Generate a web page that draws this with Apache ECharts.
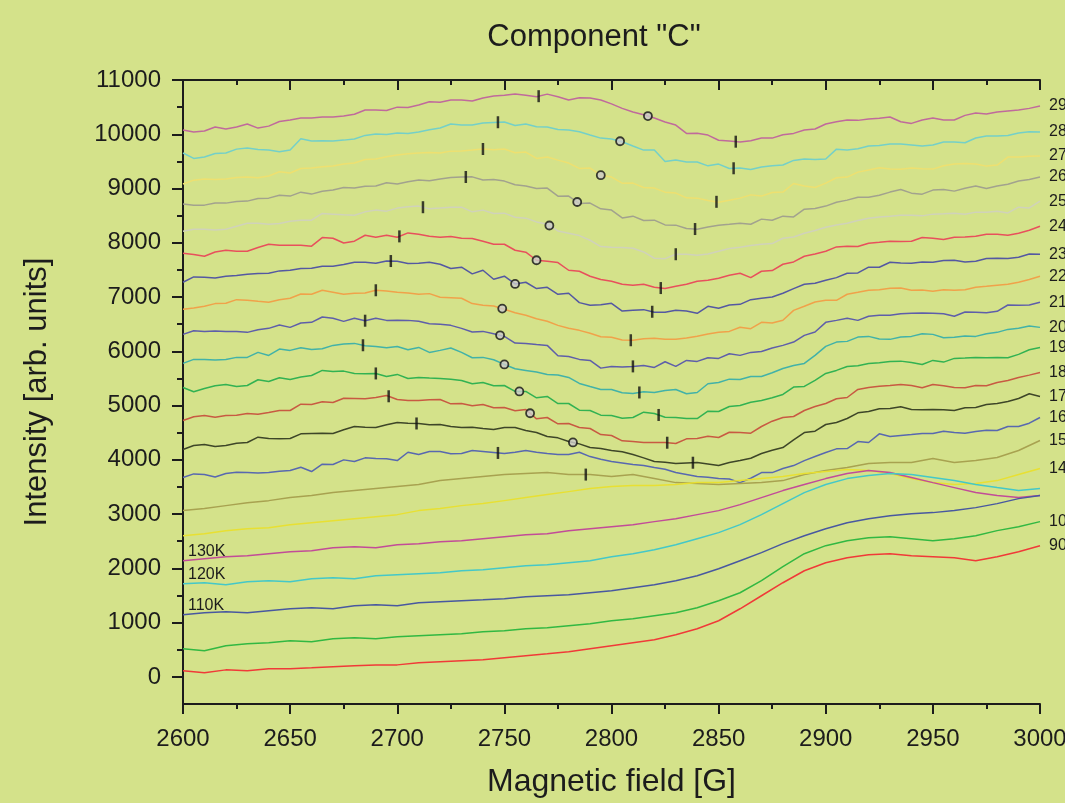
<!DOCTYPE html>
<html>
<head>
<meta charset="utf-8">
<script src="https://cdn.jsdelivr.net/npm/echarts@6/dist/echarts.min.js"></script>
<style>
  html, body { margin: 0; padding: 0; background: #d4e28a; }
  #chart { width: 1065px; height: 803px; }
</style>
</head>
<body>
<div id="chart"></div>
<script>
// Magnetic field sampling points [G]: main grid and the in-between points
const fieldsEven = [2600, 2610, 2620, 2630, 2640, 2650, 2660, 2670, 2680, 2690,
                    2700, 2710, 2720, 2730, 2740, 2750, 2760, 2770, 2780, 2790,
                    2800, 2810, 2820, 2830, 2840, 2850, 2860, 2870, 2880, 2890,
                    2900, 2910, 2920, 2930, 2940, 2950, 2960, 2970, 2980, 2990, 3000];
const fieldsOdd  = [2605, 2615, 2625, 2635, 2645, 2655, 2665, 2675, 2685, 2695,
                    2705, 2715, 2725, 2735, 2745, 2755, 2765, 2775, 2785, 2795,
                    2805, 2815, 2825, 2835, 2845, 2855, 2865, 2875, 2885, 2895,
                    2905, 2915, 2925, 2935, 2945, 2955, 2965, 2975, 2985, 2995];

// Spectra, offset per temperature [arb. units]; iNNN on fieldsEven, mNNN on fieldsOdd
const i290 = [10077,10060,10095,10190,10150,10262,10300,10317,10370,10445,10500,10540,10590,10630,10670,10720,10720,10740,10630,10670,10560,10410,10300,10170,10020,9890,9856,9930,9990,10077,10190,10262,10280,10317,10200,10300,10262,10390,10410,10445,10520];
const m290 = [10040,10133,10133,10114,10234,10298,10317,10335,10446,10437,10492,10600,10631,10612,10704,10741,10692,10692,10673,10631,10477,10359,10225,10016,9985,9874,9880,9929,10016,10096,10231,10256,10293,10231,10262,10262,10348,10372,10428,10477];
const i280 = [9655,9580,9655,9747,9710,9710,9877,9877,9913,10005,10023,10042,10116,10171,10208,10227,10190,10134,10079,9987,9913,9784,9710,9526,9488,9450,9378,9396,9433,9544,9544,9710,9784,9821,9803,9803,9858,9932,9968,10023,10042];
const m280 = [9555,9647,9726,9721,9677,9916,9880,9892,9979,9997,10016,10083,10188,10169,10218,10163,10138,10089,10046,9929,9861,9708,9499,9487,9418,9370,9351,9418,9518,9536,9726,9732,9794,9819,9782,9856,9843,9966,9979,10046];
const i270 = [9082,9174,9174,9211,9230,9285,9377,9414,9469,9543,9617,9654,9654,9691,9728,9728,9672,9580,9469,9377,9211,9100,9008,8916,8823,8749,8823,8860,8934,9045,9100,9211,9340,9358,9377,9358,9451,9451,9433,9580,9598];
const m270 = [9154,9167,9204,9198,9308,9370,9400,9450,9536,9585,9640,9665,9689,9708,9714,9659,9555,9523,9370,9246,9099,9020,8933,8828,8779,8785,8883,8927,9093,9020,9198,9302,9382,9357,9363,9418,9462,9413,9579,9597];
const i260 = [8713,8694,8731,8768,8823,8860,8897,8971,9008,9045,9082,9156,9174,9211,9156,9137,9045,9008,8860,8731,8602,8491,8417,8325,8251,8325,8362,8436,8491,8620,8676,8786,8841,8934,8915,8971,8952,9045,9045,9137,9211];
const m260 = [8693,8735,8760,8816,8877,8933,8951,9020,9043,9105,9123,9142,9204,9215,9167,9068,9001,8859,8724,8625,8458,8410,8329,8263,8292,8342,8342,8415,8477,8632,8748,8840,8877,8982,8896,8982,9006,9001,9080,9167];
const i250 = [8213,8250,8250,8361,8343,8398,8417,8528,8509,8602,8639,8676,8639,8657,8602,8546,8454,8343,8176,8047,7918,7900,7715,7789,7770,7844,7918,7973,8084,8176,8287,8361,8454,8491,8509,8528,8546,8565,8583,8657,8768];
const m250 = [8250,8237,8305,8361,8355,8415,8540,8515,8570,8583,8662,8625,8656,8570,8540,8471,8385,8219,8133,7930,7912,7831,7708,7788,7794,7893,7949,7985,8108,8226,8329,8410,8477,8508,8496,8533,8527,8564,8551,8643];
const i240 = [7807,7752,7863,7844,7973,7955,7937,8084,8029,8102,8102,8158,8102,8084,8029,7973,7826,7660,7494,7383,7291,7217,7180,7199,7291,7346,7438,7475,7604,7752,7844,7937,7992,8029,8029,8084,8102,8121,8158,8176,8306];
const m240 = [7783,7831,7844,7912,7955,7955,8096,7997,8139,8139,8182,8121,8115,8078,7973,7862,7678,7635,7475,7322,7235,7235,7156,7235,7309,7401,7358,7488,7647,7794,7924,7930,8010,8022,8096,8059,8108,8158,8139,8231];
const i230 = [7273,7365,7384,7421,7439,7494,7531,7568,7642,7623,7660,7623,7605,7550,7494,7384,7273,7180,7070,6848,6885,6756,6719,6756,6700,6792,6866,6977,7070,7235,7310,7439,7550,7642,7623,7642,7678,7660,7715,7734,7789];
const m230 = [7371,7352,7395,7433,7482,7525,7568,7599,7642,7666,7617,7642,7525,7427,7327,7241,7156,7050,6897,6860,6742,6768,6718,6742,6829,6853,6952,7001,7156,7253,7358,7444,7549,7628,7647,7672,7647,7709,7709,7794];
const i220 = [6775,6830,6886,6941,6904,6978,7051,7088,7070,7125,7088,7051,6996,6978,6849,6775,6664,6553,6424,6332,6258,6203,6240,6221,6277,6350,6443,6535,6572,6830,6941,7051,7125,7162,7125,7107,7125,7180,7217,7273,7384];
const m220 = [6798,6879,6952,6921,6952,7056,7124,7050,7075,7112,7075,7063,6989,6879,6835,6712,6601,6478,6386,6269,6207,6232,6220,6244,6318,6367,6417,6521,6755,6908,6940,7087,7136,7167,7130,7136,7136,7198,7235,7322];
const i210 = [6312,6367,6367,6349,6423,6441,6534,6608,6608,6608,6571,6552,6497,6423,6367,6275,6146,6109,5906,5832,5722,5722,5703,5722,5814,5869,5925,5998,6109,6293,6534,6608,6645,6663,6700,6700,6645,6719,6737,6848,6903];
const m210 = [6380,6373,6367,6398,6484,6521,6632,6552,6564,6570,6570,6509,6478,6355,6325,6152,6127,5919,5851,5690,5709,5740,5808,5832,5882,5955,5980,6060,6170,6355,6570,6570,6663,6694,6705,6694,6724,6712,6853,6853];
const i200 = [5777,5851,5851,5888,5924,6017,6035,6109,6146,6090,6090,6072,6017,5980,5888,5758,5648,5574,5518,5352,5297,5223,5241,5297,5241,5426,5481,5537,5684,5777,6090,6183,6275,6220,6275,6312,6257,6275,6349,6423,6441];
const m200 = [5851,5839,5888,5980,6041,6066,6048,6133,6103,6066,6029,5980,6060,5882,5845,5679,5617,5562,5408,5297,5236,5254,5278,5217,5402,5487,5537,5605,5740,5924,6170,6262,6225,6262,6325,6251,6281,6325,6404,6465];
const i190 = [5334,5315,5389,5370,5444,5481,5555,5629,5592,5592,5574,5518,5500,5463,5426,5370,5260,5168,5038,4909,4817,4780,4854,4780,4761,4891,5002,5094,5205,5352,5592,5721,5777,5814,5795,5832,5869,5888,5888,5943,6072];
const m190 = [5254,5365,5352,5476,5513,5525,5648,5635,5586,5537,5500,5506,5487,5402,5365,5260,5143,5038,4915,4823,4768,4878,4786,4762,4896,4983,5062,5143,5340,5463,5648,5734,5789,5819,5758,5801,5875,5882,5882,6029];
const i180 = [4725,4817,4817,4854,4872,4909,5020,5057,5131,5149,5112,5094,5112,5038,5020,4965,4928,4780,4669,4577,4448,4337,4319,4300,4392,4411,4503,4614,4780,4909,5038,5149,5334,5370,5370,5389,5334,5370,5426,5518,5610];
const m180 = [4793,4786,4823,4841,4909,5025,5069,5136,5125,5186,5094,5106,5032,4996,4959,4903,4755,4663,4595,4466,4350,4319,4319,4387,4435,4509,4491,4712,4799,4983,5125,5297,5358,5389,5328,5365,5328,5365,5463,5561];
const i170 = [4190,4282,4264,4319,4392,4392,4485,4485,4614,4596,4688,4669,4651,4596,4577,4596,4540,4429,4337,4226,4171,4097,3968,3931,3949,3894,3986,4116,4226,4503,4651,4762,4891,4946,4928,4928,4909,4965,5038,5131,5168];
const m170 = [4263,4245,4306,4417,4387,4479,4491,4553,4601,4645,4675,4645,4614,4601,4559,4595,4503,4405,4294,4208,4147,4036,3955,3943,3925,3950,4029,4177,4368,4528,4688,4866,4940,4977,4922,4922,4959,5020,5075,5217];
const i160 = [3673,3728,3747,3765,3765,3802,3784,3913,3968,4023,3986,4097,4153,4116,4153,4116,4171,4116,4097,4060,3968,3913,3857,3765,3691,3654,3580,3765,3839,3986,4134,4208,4319,4430,4466,4485,4503,4522,4540,4614,4780];
const m160 = [3741,3685,3771,3759,3789,3863,3919,3999,4036,4018,4140,4153,4110,4171,4134,4140,4140,4097,4140,4011,3943,3894,3826,3728,3679,3648,3660,3765,3894,4060,4202,4337,4479,4448,4485,4528,4491,4546,4614,4675];
const i150 = [3064,3101,3156,3211,3248,3304,3341,3396,3433,3470,3507,3544,3617,3654,3691,3728,3747,3765,3728,3728,3691,3728,3654,3580,3562,3544,3562,3580,3617,3728,3802,3857,3931,3950,3950,4023,3950,3986,4042,4171,4356];
const m150 = [];
const i140 = [2602,2639,2695,2731,2750,2805,2842,2879,2916,2953,2990,3064,3101,3156,3193,3248,3304,3359,3414,3470,3507,3525,3525,3544,3580,3580,3617,3654,3691,3747,3783,3820,3802,3747,3654,3580,3544,3562,3617,3728,3839];
const m140 = [];
const i130 = [2141,2178,2215,2233,2270,2307,2325,2381,2399,2381,2436,2455,2492,2510,2547,2584,2621,2639,2695,2731,2768,2805,2861,2916,2990,3064,3174,3304,3433,3544,3654,3747,3802,3765,3673,3580,3488,3396,3341,3304,3341];
const m130 = [];
const i120 = [1716,1735,1698,1753,1772,1753,1809,1827,1809,1864,1883,1901,1919,1956,1975,2012,2049,2067,2104,2141,2215,2270,2344,2436,2547,2658,2805,2990,3193,3396,3544,3654,3710,3747,3728,3673,3617,3544,3488,3433,3470];
const m120 = [];
const i110 = [1144,1181,1200,1181,1218,1255,1273,1255,1310,1329,1310,1366,1384,1403,1421,1440,1476,1495,1513,1550,1587,1643,1698,1772,1864,1993,2141,2289,2455,2602,2731,2842,2916,2971,3008,3027,3064,3119,3193,3285,3341];
const m110 = [];
const i100 = [517,480,572,609,628,664,646,701,720,701,738,757,775,794,831,849,886,904,941,978,1034,1070,1126,1181,1273,1403,1550,1772,2030,2270,2418,2510,2565,2584,2547,2510,2547,2602,2695,2768,2861];
const m100 = [];
const i90  = [111,74,129,111,148,148,166,185,203,221,221,258,277,295,314,351,388,424,461,517,572,628,683,775,886,1034,1255,1495,1735,1956,2104,2196,2252,2270,2233,2215,2196,2141,2215,2307,2418];
const m90  = [];

const temps  = ['290K','280K','270K','260K','250K','240K','230K','220K','210K','200K',
                '190K','180K','170K','160K','150K','140K','130K','120K','110K','100K','90K'];
const evenVals = [i290,i280,i270,i260,i250,i240,i230,i220,i210,i200,
                  i190,i180,i170,i160,i150,i140,i130,i120,i110,i100,i90];
const oddVals  = [m290,m280,m270,m260,m250,m240,m230,m220,m210,m200,
                  m190,m180,m170,m160,m150,m140,m130,m120,m110,m100,m90];
const colors = ['#c06a9c','#74d0c8','#eee070','#a2a28e','#d0d2ba','#e8505c','#5458a2','#f0a24a','#5e5eaa','#42b2a8',
                '#32b252','#c85a42','#3e4628','#5868b0','#a8a250','#e8e032','#c24c98','#44c8c8','#4858a0','#32b842','#f03a38'];
// Curves labelled at the start of the field sweep instead of the end
const leftLabelled = ['130K','120K','110K'];

// Resonance position markers: short bars and open rings
const tickLabels = ['290K','290K','280K','280K','270K','270K','260K','260K','250K','250K','240K','240K','230K','230K',
                    '220K','220K','210K','210K','200K','200K','190K','190K','180K','180K','170K','170K','160K','150K'];
const tickFields = [2766,2858,2747,2857,2740,2849,2732,2839,2712,2830,2701,2823,2697,2819,
                    2690,2809,2685,2810,2684,2813,2690,2822,2696,2826,2709,2838,2747,2788];
const ringLabels = ['290K','280K','270K','260K','250K','240K','230K','220K','210K','200K','190K','180K','170K'];
const ringFields = [2817,2804,2795,2784,2771,2765,2755,2749,2748,2750,2757,2762,2782];

const FONT = '"Liberation Sans", Arial, Helvetica, sans-serif';
const INK = '#1c1c1c';

// Join the main-grid and in-between samples of one spectrum into field order
function mergeSamples(even, odd) {
  const pts = even.map((v, j) => [fieldsEven[j], v]);
  odd.forEach((v, j) => pts.push([fieldsOdd[j], v]));
  return pts.sort((a, b) => a[0] - b[0]);
}
const spectra = temps.map((_, k) => mergeSamples(evenVals[k], oddVals[k]));

function valueAt(pts, f) {
  for (let j = 0; j < pts.length - 1; j++) {
    if (f >= pts[j][0] && f <= pts[j + 1][0]) {
      const t = (f - pts[j][0]) / (pts[j + 1][0] - pts[j][0]);
      return pts[j][1] + t * (pts[j + 1][1] - pts[j][1]);
    }
  }
  return pts[pts.length - 1][1];
}

const lineSeries = temps.map((name, k) => {
  const onLeft = leftLabelled.includes(name);
  const data = spectra[k].map((p, j) => {
    if (onLeft && j === 0) {
      return { value: p,
               label: { show: true, formatter: name, position: [5, -17],
                        fontSize: 16, color: INK, fontFamily: FONT } };
    }
    return p;
  });
  return {
    type: 'line', name, data, xAxisIndex: 0, yAxisIndex: 0,
    showSymbol: onLeft, symbol: 'circle', symbolSize: 0.01,
    lineStyle: { color: colors[k], width: 1.5 },
    itemStyle: { color: colors[k] },
    endLabel: onLeft ? { show: false }
      : { show: true, formatter: name, distance: 9, fontSize: 16, color: INK, fontFamily: FONT },
    silent: true, z: 2
  };
});

const tickData = tickFields.map((f, i) => [f, valueAt(spectra[temps.indexOf(tickLabels[i])], f)]);
const ringData = ringFields.map((f, i) => [f, valueAt(spectra[temps.indexOf(ringLabels[i])], f)]);

const axisLineStyle = { color: INK, width: 2 };
const plainNumber = v => String(v);

const option = {
  backgroundColor: '#d4e28a',
  animation: false,
  title: {
    text: 'Component "C"', left: 589, top: 17, textAlign: 'center',
    textStyle: { fontSize: 31, fontWeight: 'normal', color: INK, fontFamily: FONT }
  },
  grid: [
    { left: 183, right: 25, top: 80, bottom: 99, outerBoundsMode: 'none', containLabel: false },
    { left: 183, right: 25, top: 80, bottom: 126.1, outerBoundsMode: 'none', containLabel: false }
  ],
  xAxis: [
    { gridIndex: 0, type: 'value', min: 2600, max: 3000, interval: 50, position: 'bottom',
      axisLine: { onZero: false, lineStyle: axisLineStyle },
      axisTick: { length: 10, lineStyle: axisLineStyle },
      minorTick: { show: true, splitNumber: 2, length: 5, lineStyle: axisLineStyle },
      splitLine: { show: false },
      axisLabel: { fontSize: 24, color: INK, fontFamily: FONT, margin: 23, formatter: plainNumber,
                   hideOverlap: false },
      name: 'Magnetic field [G]', nameLocation: 'middle', nameGap: 62,
      nameTextStyle: { fontSize: 32, color: INK, fontFamily: FONT } },
    { gridIndex: 0, type: 'value', min: 2600, max: 3000, interval: 50, position: 'top',
      axisLine: { onZero: false, lineStyle: axisLineStyle },
      axisTick: { inside: true, length: 10, lineStyle: axisLineStyle },
      minorTick: { show: true, splitNumber: 2, length: 5, lineStyle: axisLineStyle },
      splitLine: { show: false }, axisLabel: { show: false } },
    { gridIndex: 1, type: 'value', min: 2600, max: 3000, show: false }
  ],
  yAxis: [
    { gridIndex: 0, type: 'value', min: -500, max: 11000,
      axisLine: { show: true, onZero: false, lineStyle: axisLineStyle },
      axisTick: { show: false }, axisLabel: { show: false }, splitLine: { show: false },
      name: 'Intensity [arb. units]', nameLocation: 'middle', nameGap: 130,
      nameTextStyle: { fontSize: 31, color: INK, fontFamily: FONT } },
    { gridIndex: 1, type: 'value', min: 0, max: 11000, interval: 1000,
      axisLine: { show: false },
      axisTick: { show: true, length: 11, lineStyle: axisLineStyle },
      minorTick: { show: true, splitNumber: 2, length: 6, lineStyle: axisLineStyle },
      splitLine: { show: false },
      axisLabel: { fontSize: 24, color: INK, fontFamily: FONT, margin: 22, formatter: plainNumber } }
  ],
  series: [
    ...lineSeries,
    { type: 'scatter', data: tickData, xAxisIndex: 0, yAxisIndex: 0,
      symbol: 'rect', symbolSize: [2.5, 12], itemStyle: { color: '#111' }, silent: true, z: 5 },
    { type: 'scatter', data: ringData, xAxisIndex: 0, yAxisIndex: 0,
      symbol: 'circle', symbolSize: 8,
      itemStyle: { color: '#cccccc', borderColor: '#111', borderWidth: 1.8 }, silent: true, z: 5 }
  ]
};

echarts.init(document.getElementById('chart'), null, { renderer: 'canvas' }).setOption(option);
</script>
</body>
</html>
